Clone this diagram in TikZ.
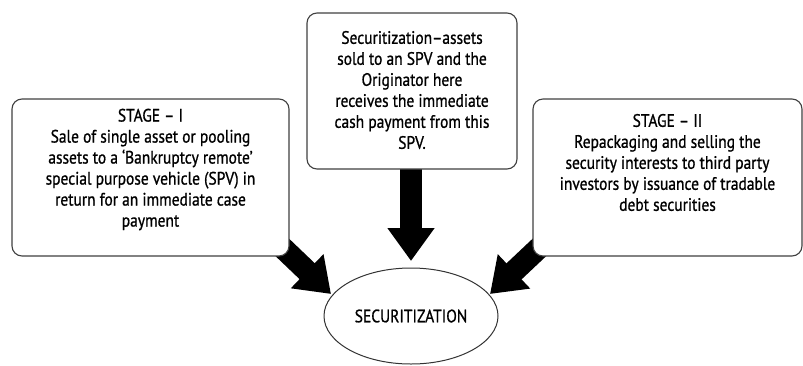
\documentclass[tikz,border=0pt]{standalone}
\usepackage{fontspec}
\setmainfont[FakeStretch=0.86,FakeBold=0.9]{PT Sans}
\usetikzlibrary{arrows.meta,shapes.geometric}
\tikzset{
  stagebox/.style={draw=black!75, line width=1.1pt, rounded corners=10pt, fill=white},
  boxtext/.style={align=center, font=\fontsize{18pt}{21pt}\selectfont, text=black, inner sep=0pt},
  bigarrow/.style={line width=22pt, -{Triangle[length=33pt,width=45pt]}},
}
\begin{document}
\begin{tikzpicture}[x=1pt,y=-1pt]
  \useasboundingbox (0,0) rectangle (803,365);

  % target ellipse
  \node[draw=black!80, line width=1pt, ellipse, minimum width=174pt, minimum height=96pt,
        font=\fontsize{18pt}{20pt}\selectfont] (sec) at (411,316) {SECURITIZATION};

  % anchor points where the arrows leave the boxes
  \coordinate (a1) at (262,228);
  \coordinate (a2) at (411,160);
  \coordinate (a3) at (560,228);
  \coordinate (t1) at (331,294);
  \coordinate (t2) at (411,261);
  \coordinate (t3) at (490,294);

  % heavy arrows into the ellipse
  \draw[bigarrow] (a1) -- (t1);
  \draw[bigarrow] (a2) -- (t2);
  \draw[bigarrow] (a3) -- (t3);

  % boxes
  \node[stagebox, minimum width=277pt, minimum height=157pt] (s1) at (150.5,177.5) {};
  \node[stagebox, minimum width=210pt, minimum height=156pt] (s0) at (412,91) {};
  \node[stagebox, minimum width=269pt, minimum height=157pt] (s2) at (667.5,177.5) {};

  \node[boxtext] (s1t) at (s1.center) [yshift=8pt] {STAGE -- I\\
    Sale of single asset or pooling\\
    assets to a ‘Bankruptcy remote’\\
    special purpose vehicle (SPV) in\\
    return for an immediate case\\
    payment};
  \node[boxtext] (s0t) at (s0.center) [yshift=1pt] {Securitization--assets\\
    sold to an SPV and the\\
    Originator here\\
    receives the immediate\\
    cash payment from this\\
    SPV.};
  \node[boxtext] (s2t) at (s2.center) [yshift=15pt] {STAGE -- II\\
    Repackaging and selling the\\
    security interests to third party\\
    investors by issuance of tradable\\
    debt securities};
\end{tikzpicture}
\end{document}
